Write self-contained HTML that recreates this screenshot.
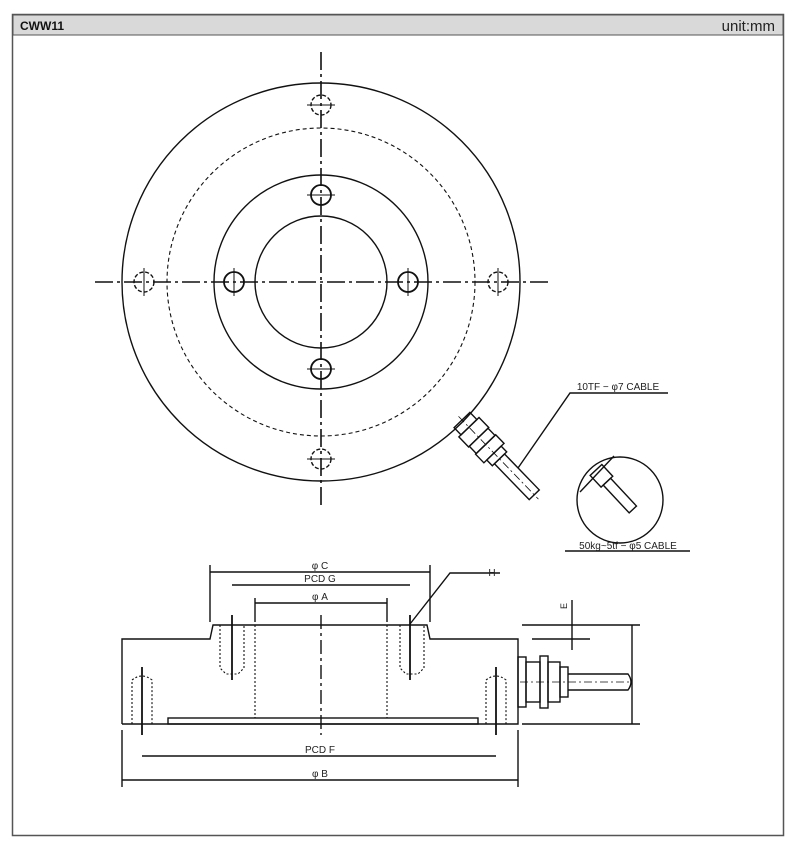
<!DOCTYPE html><html><head><style>body{margin:0;background:#fff}svg{display:block}text{font-family:"Liberation Sans",sans-serif}</style></head><body>
<svg width="797" height="860" viewBox="0 0 797 860" xmlns="http://www.w3.org/2000/svg">
<rect x="12.5" y="14.5" width="771" height="821" fill="#fff" stroke="#555" stroke-width="1.5"/>
<rect x="13" y="15" width="770" height="20" fill="#d9d9d9" stroke="#555"/>
<text x="20" y="30" font-size="12" font-weight="bold" fill="#111">CWW11</text>
<text x="775" y="31" font-size="15" text-anchor="end" fill="#222">unit:mm</text>
<g fill="none" stroke="#111" stroke-width="1.4">
<circle cx="321" cy="282" r="199"/>
<circle cx="321" cy="282" r="154" stroke-dasharray="4,3" stroke-width="1.1"/>
<circle cx="321" cy="282" r="107"/>
<circle cx="321" cy="282" r="66"/>
<g stroke-width="1.8"><circle cx="321" cy="195" r="10"/><circle cx="321" cy="369" r="10"/><circle cx="234" cy="282" r="10"/><circle cx="408" cy="282" r="10"/></g>
<g stroke-dasharray="4,2"><circle cx="321" cy="105" r="10"/><circle cx="321" cy="459" r="10"/><circle cx="144" cy="282" r="10"/><circle cx="498" cy="282" r="10"/></g>
<g stroke-width="1"><path d="M307 105h28M307 195h28M307 369h28M307 459h28M144 268v28M234 268v28M408 268v28M498 268v28"/></g>
<line x1="95" y1="282" x2="548" y2="282" stroke-dasharray="18,4,3,4" stroke-width="1.6"/>
<line x1="321" y1="52" x2="321" y2="508" stroke-dasharray="18,4,3,4" stroke-width="1.6"/>
<g transform="translate(462,420) rotate(46)">
<rect x="0" y="-11" width="10" height="22"/><rect x="10" y="-14" width="14" height="28"/><rect x="24" y="-13" width="10" height="26"/><rect x="34" y="-14" width="12" height="28"/><rect x="46" y="-10" width="8" height="20"/>
<rect x="54" y="-7" width="50" height="14"/><line x1="-5" y1="0" x2="110" y2="0" stroke-dasharray="8,3,2,3" stroke-width="0.8"/></g>
<polyline points="518,468 570,393 668,393"/>
<circle cx="620" cy="500" r="43"/>
<g transform="translate(596,470) rotate(47)"><rect x="0" y="-8" width="16" height="16"/><rect x="16" y="-5" width="38" height="10"/></g>
<line x1="580" y1="492" x2="614" y2="456"/>
<line x1="565" y1="551" x2="690" y2="551"/>
<polyline points="122,724 122,639 210,639 213,625 427,625 430,639 518,639 518,724 122,724"/>
<rect x="168" y="718" width="310" height="6"/>
<g stroke-dasharray="2,2" stroke-width="1.1"><line x1="255" y1="625" x2="255" y2="718"/><line x1="387" y1="625" x2="387" y2="718"/>
<path d="M220 625V668L226 674H238L244 668V625M400 625V668L406 674H418L424 668V625M132 724V680Q142 672 152 680V724M486 724V680Q496 672 506 680V724"/></g>
<g stroke-width="1.8"><line x1="232" y1="615" x2="232" y2="680"/><line x1="410" y1="615" x2="410" y2="680"/><line x1="142" y1="667" x2="142" y2="735"/><line x1="496" y1="667" x2="496" y2="735"/></g>
<line x1="321" y1="615" x2="321" y2="735" stroke-dasharray="14,4,3,4"/>
<line x1="210" y1="565" x2="210" y2="622"/><line x1="430" y1="565" x2="430" y2="622"/>
<line x1="122" y1="730" x2="122" y2="787"/><line x1="518" y1="730" x2="518" y2="787"/>
<line x1="255" y1="598" x2="255" y2="622"/><line x1="387" y1="598" x2="387" y2="622"/>
<line x1="210" y1="572" x2="430" y2="572"/><line x1="232" y1="585" x2="410" y2="585"/><line x1="255" y1="603" x2="387" y2="603"/>
<line x1="142" y1="756" x2="496" y2="756"/><line x1="122" y1="780" x2="518" y2="780"/>
<polyline points="410,624 450,573 500,573"/>
<line x1="522" y1="625" x2="640" y2="625"/><line x1="532" y1="639" x2="590" y2="639"/><line x1="522" y1="724" x2="640" y2="724"/>
<line x1="632" y1="625" x2="632" y2="724"/><line x1="572" y1="600" x2="572" y2="650"/>
<rect x="518" y="657" width="8" height="50"/><rect x="526" y="662" width="14" height="40"/><rect x="540" y="656" width="8" height="52"/><rect x="548" y="662" width="12" height="40"/><rect x="560" y="667" width="8" height="30"/>
<path d="M568 674H628Q634 682 628 690H568"/><line x1="520" y1="682" x2="632" y2="682" stroke-dasharray="8,3,2,3" stroke-width="0.8"/>
</g>
<g font-size="10" fill="#222" text-anchor="middle">
<text x="618" y="390">10TF − φ7 CABLE</text>
<text x="628" y="549">50kg~5tf − φ5 CABLE</text>
<text x="320" y="569">φ C</text><text x="320" y="582">PCD G</text><text x="320" y="600">φ A</text>
<text x="320" y="753">PCD F</text><text x="320" y="777">φ B</text>
<text x="492" y="576">H</text>
<text x="567" y="606" font-size="9" transform="rotate(-90 567 606)">E</text>
</g>
</svg></body></html>
